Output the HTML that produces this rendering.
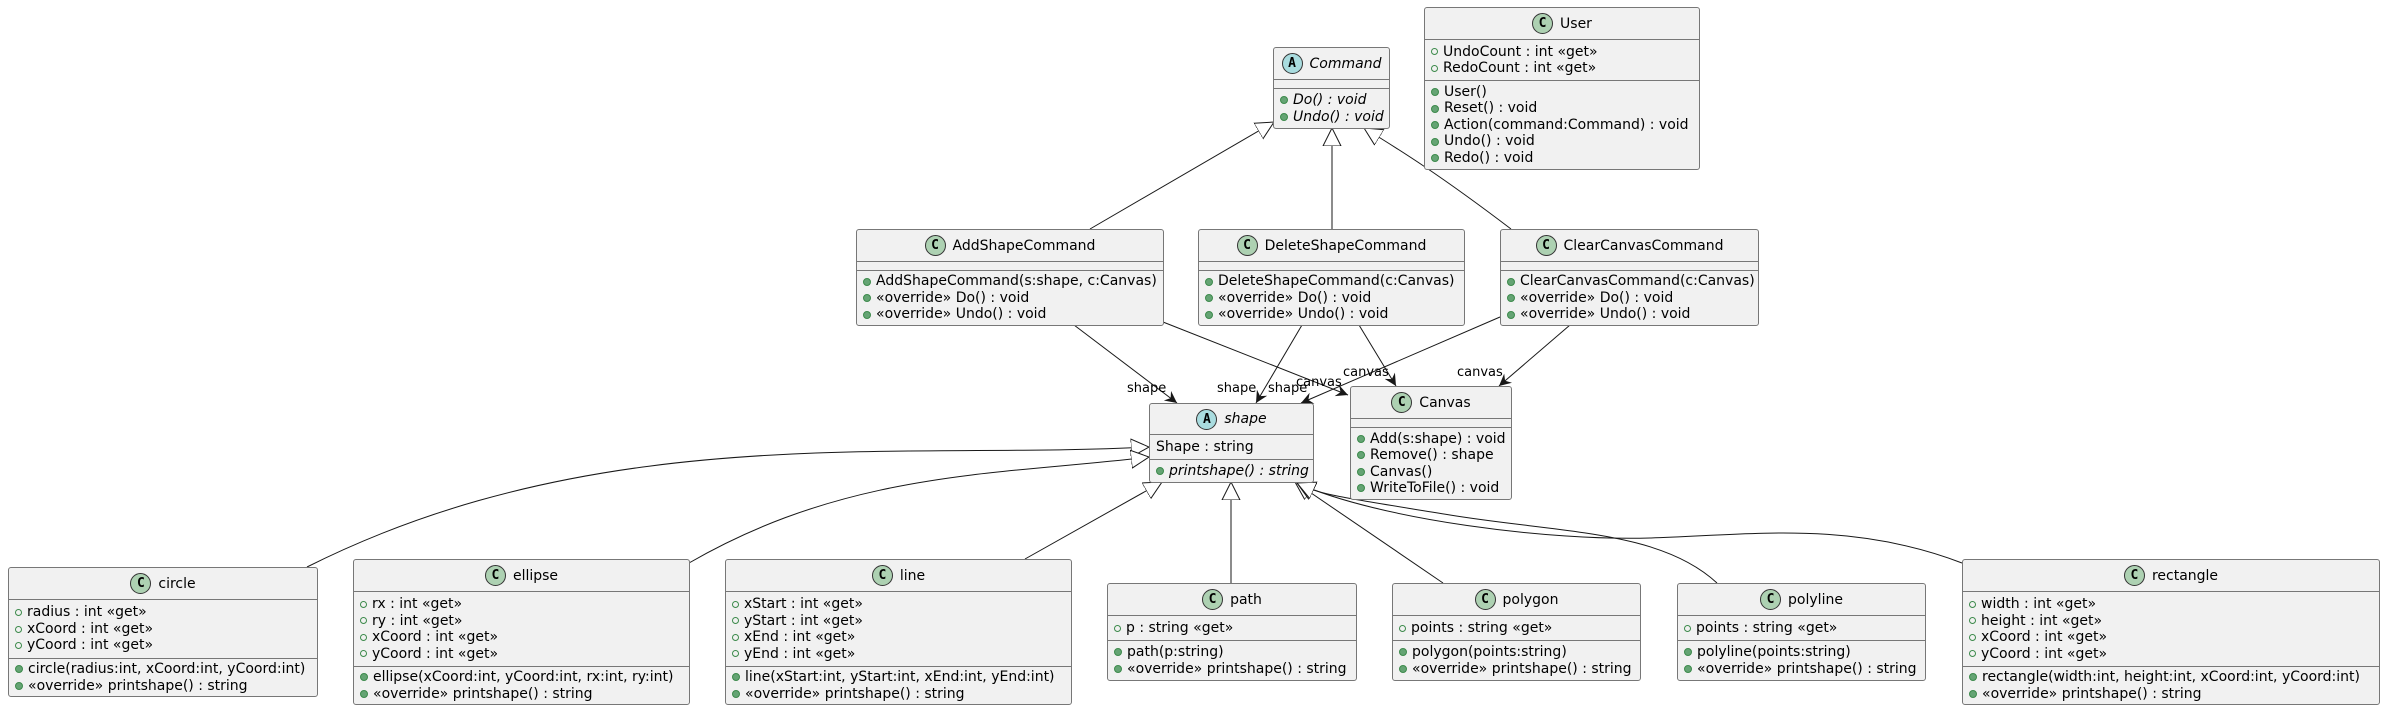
<!DOCTYPE html>
<html><head><meta charset="utf-8">
<style>
html,body{margin:0;padding:0;background:#fff;}
body{width:2385px;height:710px;position:relative;overflow:hidden;font-family:"DejaVu Sans","Liberation Sans",sans-serif;font-size:14px;color:#000;}
.b{position:absolute;box-sizing:border-box;background:#F1F1F1;border:1px solid #777;border-radius:3px;display:flex;flex-direction:column;}
.h{display:flex;align-items:center;justify-content:center;border-bottom:1px solid #777;box-sizing:border-box;flex:none;}
.ic{width:21px;height:21px;border-radius:50%;border:1px solid #333;box-sizing:border-box;display:flex;align-items:center;justify-content:center;font-weight:bold;font-size:13px;margin-right:7px;font-family:"DejaVu Sans Mono","Liberation Mono",monospace;}
.c{background:#ADD1B2;}
.a{background:#A9DCDF;}
.s{box-sizing:border-box;display:flex;flex-direction:column;justify-content:center;padding-left:6px;flex:none;white-space:nowrap;}
.s+.s{border-top:1px solid #777;}
.r{height:16.5px;line-height:16.5px;display:flex;align-items:center;}
.f::before{content:"";display:inline-block;width:5px;height:5px;border-radius:50%;border:1px solid #3C8A4B;margin-right:5px;}
.m::before{content:"";display:inline-block;width:6px;height:6px;border-radius:50%;background:#65A474;border:0.5px solid #3C8A4B;margin-right:5px;}
i{font-style:italic;}
svg{position:absolute;left:0;top:0;}
</style></head><body>
<svg width="2385" height="710" viewBox="0 0 2385 710">
<defs>
<marker id="g" markerUnits="userSpaceOnUse" markerWidth="22" markerHeight="22" refX="18" refY="10" orient="auto">
<path d="M0,1 L18,10 L0,19 Z" fill="#fff" stroke="#181818" stroke-width="1"/></marker>
<marker id="o" markerUnits="userSpaceOnUse" markerWidth="14" markerHeight="14" refX="12" refY="6" orient="auto">
<path d="M0,0 L12,6 L0,12 L4,6 Z" fill="#181818"/></marker>
</defs>
<g fill="none" stroke="#181818" stroke-width="1">
<path d="M1090,229 L1274,122" marker-end="url(#g)"/>
<path d="M1332,229 L1332,128" marker-end="url(#g)"/>
<path d="M1511,229 C1440,175 1400,150 1364,128" marker-end="url(#g)"/>
<path d="M307,567 C600,420 900,460 1149,447" marker-end="url(#g)"/>
<path d="M689,563 C850,470 1000,475 1149,457" marker-end="url(#g)"/>
<path d="M1025,559 L1162,482" marker-end="url(#g)"/>
<path d="M1231,583 L1231,482" marker-end="url(#g)"/>
<path d="M1443,583 L1295,482" marker-end="url(#g)"/>
<path d="M1717,583 C1660,530 1560,533 1450,515 S1320,495 1297,483" marker-end="url(#g)"/>
<path d="M1962,563 C1850,520 1750,535 1650,538 S1380,520 1297,483" marker-end="url(#g)"/>
<path d="M1074,325 L1177,403" marker-end="url(#o)"/>
<path d="M1163,322 L1348,395" marker-end="url(#o)"/>
<path d="M1302,325 L1256,403" marker-end="url(#o)"/>
<path d="M1359,325 L1396,386" marker-end="url(#o)"/>
<path d="M1500,317 L1301,403" marker-end="url(#o)"/>
<path d="M1570,325 L1499,386" marker-end="url(#o)"/>
</g>
<g font-family="DejaVu Sans, Liberation Sans, sans-serif" font-size="13" fill="#000">
<text x="1127" y="392">shape</text>
<text x="1296" y="386">canvas</text>
<text x="1217" y="392">shape</text>
<text x="1268" y="392">shape</text>
<text x="1343" y="376">canvas</text>
<text x="1457" y="376">canvas</text>
</g>
</svg>

<div class="b" style="left:1424px;top:7px;width:276px;height:163px;">
<div class="h" style="height:32px"><span class="ic c">C</span>User</div>
<div class="s" style="height:40px"><div class="r f">UndoCount : int «get»</div><div class="r f">RedoCount : int «get»</div></div>
<div class="s" style="height:89px"><div class="r m">User()</div><div class="r m">Reset() : void</div><div class="r m">Action(command:Command) : void</div><div class="r m">Undo() : void</div><div class="r m">Redo() : void</div></div>
</div>

<div class="b" style="left:1273px;top:47px;width:117px;height:82px;">
<div class="h" style="height:32px"><span class="ic a">A</span><i>Command</i></div>
<div class="s" style="height:8px"></div>
<div class="s" style="height:40px"><div class="r m"><i>Do() : void</i></div><div class="r m"><i>Undo() : void</i></div></div>
</div>

<div class="b" style="left:856px;top:229px;width:308px;height:97px;">
<div class="h" style="height:32px"><span class="ic c">C</span>AddShapeCommand</div>
<div class="s" style="height:8px"></div>
<div class="s" style="height:55px"><div class="r m">AddShapeCommand(s:shape, c:Canvas)</div><div class="r m">«override» Do() : void</div><div class="r m">«override» Undo() : void</div></div>
</div>

<div class="b" style="left:1198px;top:229px;width:267px;height:97px;">
<div class="h" style="height:32px"><span class="ic c">C</span>DeleteShapeCommand</div>
<div class="s" style="height:8px"></div>
<div class="s" style="height:55px"><div class="r m">DeleteShapeCommand(c:Canvas)</div><div class="r m">«override» Do() : void</div><div class="r m">«override» Undo() : void</div></div>
</div>

<div class="b" style="left:1500px;top:229px;width:259px;height:97px;">
<div class="h" style="height:32px"><span class="ic c">C</span>ClearCanvasCommand</div>
<div class="s" style="height:8px"></div>
<div class="s" style="height:55px"><div class="r m">ClearCanvasCommand(c:Canvas)</div><div class="r m">«override» Do() : void</div><div class="r m">«override» Undo() : void</div></div>
</div>

<div class="b" style="left:1149px;top:403px;width:165px;height:80px;">
<div class="h" style="height:31px"><span class="ic a">A</span><i>shape</i></div>
<div class="s" style="height:24px"><div class="r">Shape : string</div></div>
<div class="s" style="height:23px"><div class="r m"><i>printshape() : string</i></div></div>
</div>

<div class="b" style="left:1350px;top:386px;width:162px;height:114px;">
<div class="h" style="height:32px"><span class="ic c">C</span>Canvas</div>
<div class="s" style="height:8px"></div>
<div class="s" style="height:72px"><div class="r m">Add(s:shape) : void</div><div class="r m">Remove() : shape</div><div class="r m">Canvas()</div><div class="r m">WriteToFile() : void</div></div>
</div>

<div class="b" style="left:8px;top:567px;width:310px;height:130px;">
<div class="h" style="height:32px"><span class="ic c">C</span>circle</div>
<div class="s" style="height:58px"><div class="r f">radius : int «get»</div><div class="r f">xCoord : int «get»</div><div class="r f">yCoord : int «get»</div></div>
<div class="s" style="height:38px"><div class="r m">circle(radius:int, xCoord:int, yCoord:int)</div><div class="r m">«override» printshape() : string</div></div>
</div>

<div class="b" style="left:353px;top:559px;width:337px;height:146px;">
<div class="h" style="height:32px"><span class="ic c">C</span>ellipse</div>
<div class="s" style="height:74px"><div class="r f">rx : int «get»</div><div class="r f">ry : int «get»</div><div class="r f">xCoord : int «get»</div><div class="r f">yCoord : int «get»</div></div>
<div class="s" style="height:38px"><div class="r m">ellipse(xCoord:int, yCoord:int, rx:int, ry:int)</div><div class="r m">«override» printshape() : string</div></div>
</div>

<div class="b" style="left:725px;top:559px;width:347px;height:146px;">
<div class="h" style="height:32px"><span class="ic c">C</span>line</div>
<div class="s" style="height:74px"><div class="r f">xStart : int «get»</div><div class="r f">yStart : int «get»</div><div class="r f">xEnd : int «get»</div><div class="r f">yEnd : int «get»</div></div>
<div class="s" style="height:38px"><div class="r m">line(xStart:int, yStart:int, xEnd:int, yEnd:int)</div><div class="r m">«override» printshape() : string</div></div>
</div>

<div class="b" style="left:1107px;top:583px;width:250px;height:98px;">
<div class="h" style="height:32px"><span class="ic c">C</span>path</div>
<div class="s" style="height:24px"><div class="r f">p : string «get»</div></div>
<div class="s" style="height:40px"><div class="r m">path(p:string)</div><div class="r m">«override» printshape() : string</div></div>
</div>

<div class="b" style="left:1392px;top:583px;width:249px;height:98px;">
<div class="h" style="height:32px"><span class="ic c">C</span>polygon</div>
<div class="s" style="height:24px"><div class="r f">points : string «get»</div></div>
<div class="s" style="height:40px"><div class="r m">polygon(points:string)</div><div class="r m">«override» printshape() : string</div></div>
</div>

<div class="b" style="left:1677px;top:583px;width:249px;height:98px;">
<div class="h" style="height:32px"><span class="ic c">C</span>polyline</div>
<div class="s" style="height:24px"><div class="r f">points : string «get»</div></div>
<div class="s" style="height:40px"><div class="r m">polyline(points:string)</div><div class="r m">«override» printshape() : string</div></div>
</div>

<div class="b" style="left:1962px;top:559px;width:418px;height:146px;">
<div class="h" style="height:32px"><span class="ic c">C</span>rectangle</div>
<div class="s" style="height:74px"><div class="r f">width : int «get»</div><div class="r f">height : int «get»</div><div class="r f">xCoord : int «get»</div><div class="r f">yCoord : int «get»</div></div>
<div class="s" style="height:38px"><div class="r m">rectangle(width:int, height:int, xCoord:int, yCoord:int)</div><div class="r m">«override» printshape() : string</div></div>
</div>
</body></html>
